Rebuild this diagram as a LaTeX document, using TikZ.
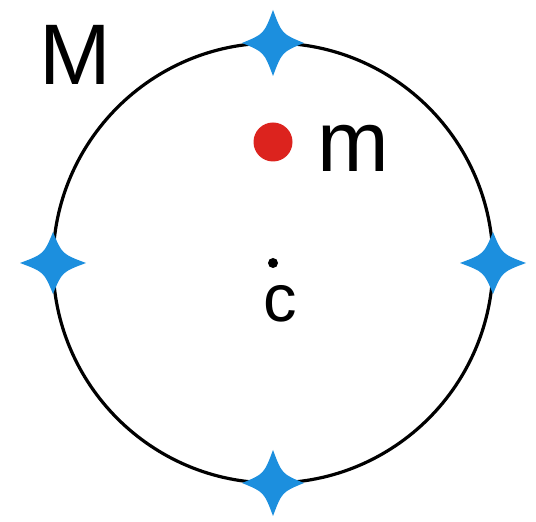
\documentclass[tikz,border=0pt]{standalone}
\usepackage{fontspec}
\setmainfont{Liberation Sans}
\usetikzlibrary{positioning,calc}
\definecolor{StarBlue}{RGB}{28,143,222}
\definecolor{MassRed}{RGB}{220,35,30}
\tikzset{
	ring/.style={draw=black,line width=3.2pt},
	dot/.style={circle,inner sep=0pt},
	bigtext/.style={inner sep=0pt,font=\fontsize{86}{86}\selectfont},
	sparkle/.pic={
		\fill[StarBlue] (33,0) .. controls (9,9) .. (0,31) .. controls (-9,9) .. (-33,0)
		.. controls (-9,-9) .. (0,-31) .. controls (9,-9) .. cycle;},
}
\begin{document}
\begin{tikzpicture}[x=1pt,y=1pt]
	\useasboundingbox (0,0) rectangle (536,522);
	\coordinate (C) at (273,259);
	\draw[ring] (C) circle (220pt);
	% the four stars on the ring
	\foreach \a in {0,90,180,270}
	\pic[rotate=\a] at ($(C)+(\a:220)$) {sparkle};
	\node[dot,fill=black,minimum size=10pt] (centre) at (C) {};
	\node[dot,fill=MassRed,minimum size=39pt] (mass) at (273,380) {};
	\node[bigtext,anchor=base west] (mlabel) at (317,350) {m};
	\node[bigtext,anchor=base west] (Mlabel) at (39,437) {M};
	\node[inner sep=0pt,font=\fontsize{67}{67}\selectfont,anchor=base] (clabel) at (280,200) {c};
\end{tikzpicture}
\end{document}
